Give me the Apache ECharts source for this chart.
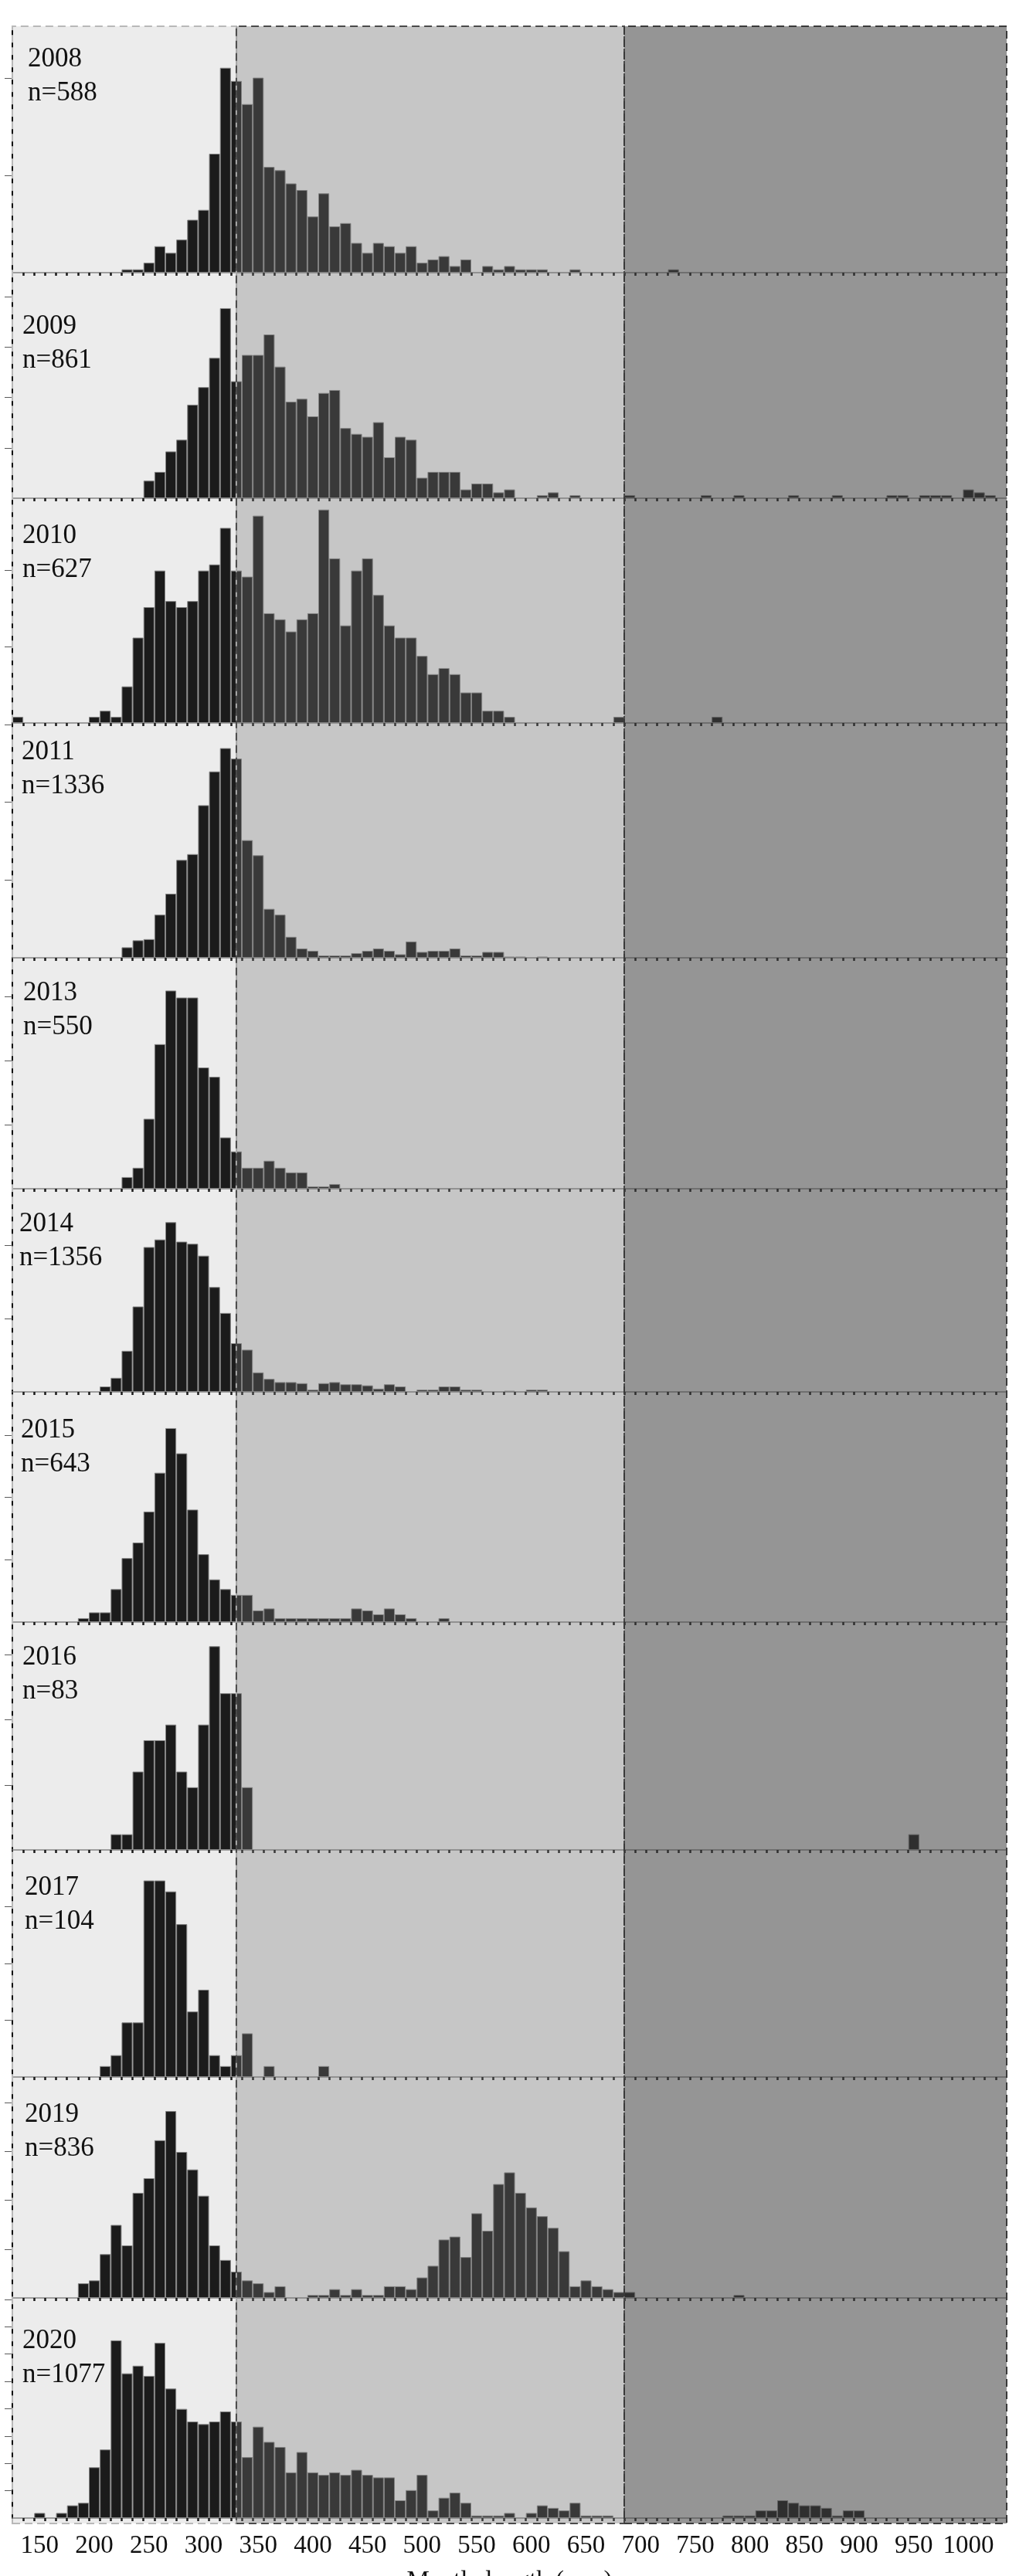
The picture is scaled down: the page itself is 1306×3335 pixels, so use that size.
<!DOCTYPE html>
<html>
<head>
<meta charset="utf-8">
<script src="https://cdn.jsdelivr.net/npm/echarts@6/dist/echarts.min.js"></script>
<style>
  html, body { margin: 0; padding: 0; background: #ffffff; }
  #chart { width: 1306px; height: 3335px; }
</style>
</head>
<body>
<div id="chart"></div>
<script>
// ---- data: mantle length frequency (10 mm bins, value = bin centre, count) ----
const years = ['2008', '2009', '2010', '2011', '2013', '2014', '2015', '2016', '2017', '2019', '2020'];
const sampleSizes = [588, 861, 627, 1336, 550, 1356, 643, 83, 104, 836, 1077];

const counts2008 = [[230,1],[240,1],[250,3],[260,8],[270,6],[280,10],[290,16],[300,19],[310,36],[320,62],[330,58],[340,51],[350,59],[360,32],[370,31],[380,27],[390,25],[400,17],[410,24],[420,14],[430,15],[440,9],[450,6],[460,9],[470,8],[480,6],[490,8],[500,3],[510,4],[520,5],[530,2],[540,4],[560,2],[570,1],[580,2],[590,1],[600,1],[610,1],[640,1],[730,1]];
const counts2009 = [[250,6],[260,9],[270,16],[280,20],[290,32],[300,38],[310,48],[320,65],[330,40],[340,49],[350,49],[360,56],[370,45],[380,33],[390,34],[400,28],[410,36],[420,37],[430,24],[440,22],[450,21],[460,26],[470,14],[480,21],[490,20],[500,7],[510,9],[520,9],[530,9],[540,3],[550,5],[560,5],[570,2],[580,3],[610,1],[620,2],[640,1],[690,1],[760,1],[790,1],[840,1],[880,1],[930,1],[940,1],[960,1],[970,1],[980,1],[1000,3],[1010,2],[1020,1]];
const counts2010 = [[130,1],[200,1],[210,2],[220,1],[230,6],[240,14],[250,19],[260,25],[270,20],[280,19],[290,20],[300,25],[310,26],[320,32],[330,25],[340,24],[350,34],[360,18],[370,17],[380,15],[390,17],[400,18],[410,35],[420,27],[430,16],[440,25],[450,27],[460,21],[470,16],[480,14],[490,14],[500,11],[510,8],[520,9],[530,8],[540,5],[550,5],[560,2],[570,2],[580,1],[680,1],[770,1]];
const counts2011 = [[230,9],[240,15],[250,16],[260,37],[270,55],[280,84],[290,89],[300,131],[310,160],[320,180],[330,171],[340,101],[350,88],[360,42],[370,37],[380,18],[390,8],[400,6],[410,2],[420,2],[430,2],[440,4],[450,6],[460,8],[470,6],[480,3],[490,14],[500,5],[510,6],[520,6],[530,8],[540,2],[550,2],[560,5],[570,5],[580,1],[590,1],[610,1]];
const counts2013 = [[230,5],[240,9],[250,30],[260,62],[270,85],[280,82],[290,82],[300,52],[310,48],[320,22],[330,16],[340,9],[350,9],[360,12],[370,9],[380,7],[390,7],[400,1],[410,1],[420,2]];
const counts2014 = [[210,5],[220,13],[230,38],[240,79],[250,134],[260,141],[270,157],[280,139],[290,137],[300,126],[310,97],[320,73],[330,45],[340,39],[350,18],[360,12],[370,9],[380,9],[390,8],[400,2],[410,8],[420,9],[430,7],[440,7],[450,6],[460,3],[470,7],[480,5],[500,2],[510,2],[520,5],[530,5],[540,2],[550,2],[580,1],[600,2],[610,2]];
const counts2015 = [[190,2],[200,5],[210,5],[220,17],[230,33],[240,41],[250,57],[260,77],[270,100],[280,87],[290,58],[300,35],[310,22],[320,17],[330,14],[340,14],[350,6],[360,7],[370,2],[380,2],[390,2],[400,2],[410,2],[420,2],[430,2],[440,7],[450,6],[460,4],[470,7],[480,4],[490,2],[520,2]];
const counts2016 = [[220,1],[230,1],[240,5],[250,7],[260,7],[270,8],[280,5],[290,4],[300,8],[310,13],[320,10],[330,10],[340,4],[950,1]];
const counts2017 = [[210,1],[220,2],[230,5],[240,5],[250,18],[260,18],[270,17],[280,14],[290,6],[300,8],[310,2],[320,1],[330,2],[340,4],[360,1],[410,1]];
const counts2019 = [[190,5],[200,6],[210,15],[220,25],[230,18],[240,36],[250,41],[260,54],[270,64],[280,50],[290,44],[300,35],[310,18],[320,13],[330,9],[340,6],[350,5],[360,2],[370,4],[400,1],[410,1],[420,3],[430,1],[440,3],[450,1],[460,1],[470,4],[480,4],[490,3],[500,7],[510,11],[520,20],[530,21],[540,14],[550,29],[560,23],[570,39],[580,43],[590,36],[600,31],[610,28],[620,24],[630,16],[640,4],[650,6],[660,4],[670,3],[680,2],[690,2],[790,1]];
const counts2020 = [[150,2],[170,2],[180,5],[190,6],[200,20],[210,27],[220,70],[230,57],[240,60],[250,56],[260,69],[270,51],[280,43],[290,38],[300,37],[310,38],[320,42],[330,38],[340,24],[350,36],[360,30],[370,28],[380,18],[390,26],[400,18],[410,17],[420,18],[430,17],[440,19],[450,17],[460,16],[470,16],[480,7],[490,11],[500,17],[510,3],[520,8],[530,10],[540,6],[550,1],[560,1],[570,1],[580,2],[600,2],[610,5],[620,4],[630,3],[640,6],[650,1],[660,1],[670,1],[780,1],[790,1],[800,1],[810,3],[820,3],[830,7],[840,6],[850,5],[860,5],[870,4],[880,1],[890,3],[900,3]];

const countsByYear = [counts2008, counts2009, counts2010, counts2011, counts2013, counts2014, counts2015, counts2016, counts2017, counts2019, counts2020];

// y axis (percent of the year's sample): tick step and upper bound of each panel
const yTickStep = [5, 2, 2, 5, 5, 5, 5, 5, 5, 2, 1];
const yUpper = [12.68, 8.96, 5.88, 15.09, 18.01, 13.86, 18.46, 17.52, 20.0, 9.05, 8.05];

// x axis
const xTickLabels = [150, 200, 250, 300, 350, 400, 450, 500, 550, 600, 650, 700, 750, 800, 850, 900, 950, 1000];
const xTitle = 'Mantle length (mm)';
const binWidth = 10;
const xMin = 125, xMax = 1035;
const zoneBreaks = [330, 685];

// ---- layout (pixels) ----
const panelTop  = [34, 353, 645, 936, 1240, 1539, 1802, 2100, 2395, 2689, 2975];
const panelBase = [353, 645, 936, 1240, 1539, 1802, 2100, 2395, 2689, 2975, 3260];
const labelMidY = [77, 423, 694, 974, 1286, 1585, 1852, 2146, 2444, 2738, 3031];
const labelLeft = [36, 29, 29, 28, 30, 25, 27, 29, 32, 32, 29];
const gridLeft = 16, gridRight = 3;
const overlayTop = 34, overlayBottom = 3267;
const titleTop = 3326;
const serif = '"Liberation Serif", "Times New Roman", serif';

// bin edges carry the small ticks along every baseline
const binEdges = [];
for (let e = xMin + binWidth; e < xMax; e += binWidth) binEdges.push(e);

const grids = [], xAxes = [], yAxes = [], series = [], graphics = [];
const last = years.length - 1;

years.forEach((yr, i) => {
  const n = sampleSizes[i];
  grids.push({ left: gridLeft, right: gridRight, top: panelTop[i], height: panelBase[i] - panelTop[i] });

  xAxes.push({
    type: 'value', gridIndex: i, min: xMin, max: xMax,
    splitLine: { show: false },
    axisLine: { show: true, onZero: false, lineStyle: { color: '#8a8a8a', width: 1.5 } },
    axisTick: { show: true, inside: false, customValues: binEdges, length: 4, lineStyle: { color: '#111', width: 2.5 } },
    axisLabel: i === last
      ? { show: true, customValues: xTickLabels, margin: 20, color: '#111', fontFamily: serif, fontSize: 33,
          formatter: v => String(v) }
      : { show: false }
  });

  const ticks = [];
  for (let k = 1; k * yTickStep[i] < yUpper[i] - 1e-6; k++) ticks.push(k * yTickStep[i]);
  yAxes.push({
    type: 'value', gridIndex: i, min: 0, max: yUpper[i], interval: yTickStep[i],
    splitLine: { show: false },
    axisLine: { show: true, lineStyle: { color: '#000', width: 2 } },
    axisTick: { show: true, inside: false, customValues: ticks, length: 10, lineStyle: { color: '#5a5a5a', width: 1 } },
    axisLabel: { show: false }
  });

  series.push({
    type: 'bar', xAxisIndex: i, yAxisIndex: i, barWidth: '100%',
    silent: true, animation: false,
    data: countsByYear[i].map(([c, k]) => [c, k / n * 100]),
    itemStyle: { color: '#141414', borderColor: '#8c8c8c', borderWidth: 1 }
  });

  graphics.push({
    type: 'text', left: labelLeft[i], top: labelMidY[i] - 22, z: 100,
    style: { text: yr + '\nn=' + n, font: '35px ' + serif, lineHeight: 44, fill: '#111' }
  });
});

// axis title, centred under the plotting area
graphics.push({
  type: 'text', x: gridLeft + (1306 - gridLeft - gridRight) / 2, y: titleTop, z: 100,
  style: { text: xTitle, font: '33px ' + serif, fill: '#111', align: 'center', verticalAlign: 'top' }
});

// Shaded length classes drawn as translucent bands over every panel
const oi = years.length;
grids.push({ left: gridLeft, right: gridRight, top: overlayTop, height: overlayBottom - overlayTop });
xAxes.push({ type: 'value', gridIndex: oi, min: xMin, max: xMax, show: false });
yAxes.push({ type: 'value', gridIndex: oi, min: 0, max: 1, show: false });
series.push({
  type: 'line', xAxisIndex: oi, yAxisIndex: oi, data: [[xMin, 0]], showSymbol: false,
  lineStyle: { opacity: 0 }, silent: true, animation: false,
  markArea: {
    silent: true, z: 10, label: { show: false },
    data: [
      [{ xAxis: xMin, itemStyle: { color: 'rgba(90,90,90,0.115)', borderColor: '#b8b8b8', borderWidth: 2, borderType: [10, 6] } }, { xAxis: zoneBreaks[0] }],
      [{ xAxis: zoneBreaks[0], itemStyle: { color: 'rgba(114,114,114,0.404)', borderColor: '#4a4a4a', borderWidth: 2, borderType: [10, 6] } }, { xAxis: zoneBreaks[1] }],
      [{ xAxis: zoneBreaks[1], itemStyle: { color: 'rgba(69,69,69,0.57)', borderColor: '#3a3a3a', borderWidth: 2, borderType: [10, 6] } }, { xAxis: xMax }]
    ]
  }
});

const chart = echarts.init(document.getElementById('chart'), null, { renderer: 'canvas' });
chart.setOption({
  animation: false,
  backgroundColor: '#ffffff',
  grid: grids, xAxis: xAxes, yAxis: yAxes, series: series,
  graphic: graphics
});
</script>
</body>
</html>
